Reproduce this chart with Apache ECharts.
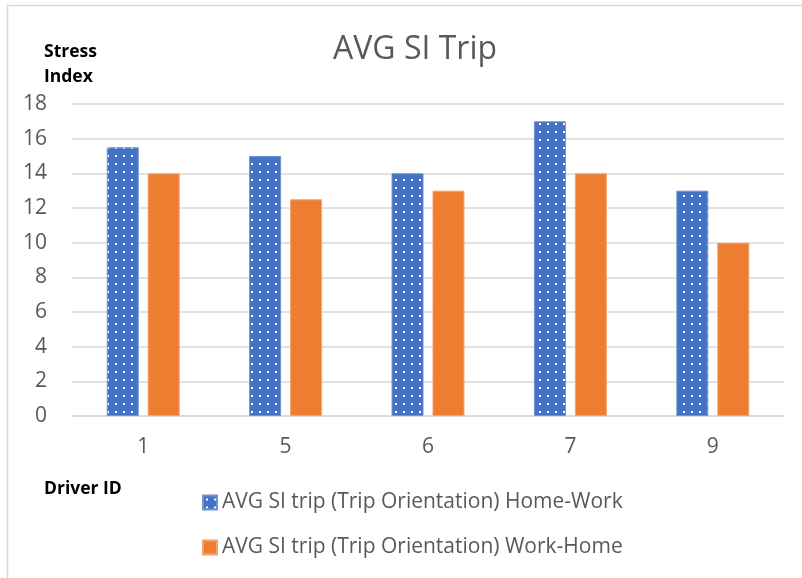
<!DOCTYPE html>
<html><head><meta charset="utf-8">
<script src="https://cdn.jsdelivr.net/npm/echarts@6/dist/echarts.min.js"></script>
<style>html,body{margin:0;padding:0;background:#fff}#c{width:802px;height:578px}</style></head>
<body><div id="c"></div><script>
const categories = ['1', '5', '6', '7', '9'];
const homeWork = [15.5, 15, 14, 17, 13];
const workHome = [14, 12.5, 13, 14, 10];
const seriesNames = ['AVG SI trip (Trip Orientation) Home-Work', 'AVG SI trip (Trip Orientation) Work-Home'];
const yMin = 0, yMax = 18, yStep = 2;

const FONT = 'Open Sans';
const pat = document.createElement('canvas');
pat.width = 8; pat.height = 8;
const g = pat.getContext('2d');
g.fillStyle = '#4472C4'; g.fillRect(0, 0, 8, 8);
g.fillStyle = '#ffffff'; g.fillRect(3, 3, 2, 2);
const blueFill = { image: pat, repeat: 'repeat' };

const chart = echarts.init(document.getElementById('c'), null, { renderer: 'canvas' });
chart.setOption({
  animation: false,
  backgroundColor: '#fff',
  title: {
    text: 'AVG SI Trip', left: 328, top: 29,
    textStyle: { fontFamily: FONT, fontSize: 32, fontWeight: 'normal', color: '#595959' }
  },
  graphic: [
    { type: 'rect', shape: { x: 7.5, y: 5.5, width: 820, height: 600 }, style: { fill: 'none', stroke: '#d9d9d9', lineWidth: 1.5 }, silent: true },
    { type: 'text', left: 44, top: 40, style: { text: 'Stress\nIndex', fontFamily: FONT, fontSize: 17.5, fontWeight: 'bold', fill: '#000', lineHeight: 25 } },
    { type: 'text', left: 44, top: 480, style: { text: 'Driver ID', fontFamily: FONT, fontSize: 17.5, fontWeight: 'bold', fill: '#000' } }
  ],
  legend: {
    orient: 'vertical', left: 197, top: 487, itemGap: 24, itemWidth: 14, itemHeight: 14,
    icon: 'rect',
    textStyle: { fontFamily: FONT, fontSize: 21, color: '#595959', padding: [0, 0, 0, 0] },
    data: seriesNames
  },
  grid: { left: 72, right: 18, top: 104, bottom: 162, containLabel: false },
  xAxis: {
    type: 'category', data: categories,
    axisLine: { lineStyle: { color: '#d9d9d9', width: 1.5 } },
    axisTick: { show: false },
    axisLabel: { fontFamily: FONT, fontSize: 21, color: '#595959', margin: 21 }
  },
  yAxis: {
    type: 'value', min: yMin, max: yMax, interval: yStep,
    axisLine: { show: false }, axisTick: { show: false },
    splitLine: { lineStyle: { color: '#d9d9d9', width: 1.5 } },
    axisLabel: { fontFamily: FONT, fontSize: 21, color: '#595959', margin: 25 }
  },
  series: [
    { name: seriesNames[0], type: 'bar', data: homeWork, barWidth: 32, barGap: '28%',
      itemStyle: { color: blueFill, borderColor: '#6f93d3', borderWidth: 1 } },
    { name: seriesNames[1], type: 'bar', data: workHome, barWidth: 32,
      itemStyle: { color: '#ED7D31', borderColor: '#f3a36e', borderWidth: 1 } }
  ]
});
</script></body></html>
